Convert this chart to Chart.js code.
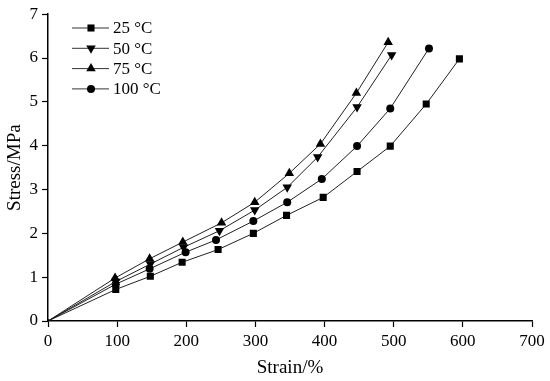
<!DOCTYPE html>
<html>
<head>
<meta charset="utf-8">
<script src="https://cdn.jsdelivr.net/npm/chart.js@4"></script>
<style>
    html, body { margin: 0; padding: 0; background: #fff; }
    #contenedor { width: 550px; height: 381px; }
</style>
</head>
<body>
<div id="contenedor"><canvas id="grafica"></canvas></div>
<script>
// Datos
const etiquetas = ['25 °C', '50 °C', '75 °C', '100 °C'];
const estilos = ['rect', 'triangle', 'triangle', 'circle'];
const rotaciones = [0, 180, 0, 0];
const radios = [5, 5.5, 5.5, 4];

const strain25 = [0, 98, 148, 194, 246, 297, 345, 398, 447, 495, 547, 595];
const stress25 = [0, 0.72, 1.02, 1.34, 1.63, 2.0, 2.41, 2.82, 3.41, 3.99, 4.95, 5.98];

const strain50 = [0, 98, 148, 196, 248, 299, 346, 390, 447, 497];
const stress50 = [0, 0.9, 1.3, 1.68, 2.06, 2.53, 3.05, 3.74, 4.88, 6.07];

const strain75 = [0, 97, 147, 195, 251, 299, 349, 394, 446, 492];
const stress75 = [0, 0.98, 1.42, 1.8, 2.24, 2.71, 3.37, 4.04, 5.2, 6.36];

const strain100 = [0, 98, 147, 199, 243, 297, 346, 396, 447, 495, 551];
const stress100 = [0, 0.84, 1.19, 1.57, 1.85, 2.28, 2.71, 3.24, 3.99, 4.85, 6.22];

const strains = [strain25, strain50, strain75, strain100];
const stresses = [stress25, stress50, stress75, stress100];

const fuente = 'Liberation Serif';

const datasets = etiquetas.map((etiqueta, i) => ({
    label: etiqueta,
    data: strains[i].map((x, j) => ({ x: x, y: stresses[i][j] })),
    borderColor: '#222',
    borderWidth: 1,
    backgroundColor: '#000',
    pointStyle: strains[i].map((x, j) => j === 0 ? 'circle' : estilos[i]),
    pointRotation: rotaciones[i],
    pointRadius: strains[i].map((x, j) => j === 0 ? 1.5 : radios[i]),
    pointBorderWidth: 0,
    tension: 0
}));

// Leyenda dibujada dentro del área del gráfico
const leyendaInterna = {
    id: 'leyendaInterna',
    afterDraw(chart) {
        const ctx = chart.ctx;
        ctx.save();
        chart.data.datasets.forEach((ds, i) => {
            const y = 28 + i * 20.3;
            ctx.strokeStyle = '#333';
            ctx.lineWidth = 1;
            ctx.beginPath();
            ctx.moveTo(72, y);
            ctx.lineTo(109, y);
            ctx.stroke();
            ctx.fillStyle = '#000';
            ctx.strokeStyle = '#000';
            Chart.helpers.drawPoint(ctx, {
                pointStyle: estilos[i],
                rotation: rotaciones[i],
                radius: radios[i],
                borderWidth: 0
            }, 91, y);
            ctx.fillStyle = '#000';
            ctx.font = '17px "' + fuente + '"';
            ctx.textBaseline = 'middle';
            ctx.textAlign = 'left';
            ctx.fillText(ds.label, 113, y + 1);
        });
        ctx.restore();
    }
};

const ctx = document.getElementById('grafica').getContext('2d');
const myChart = new Chart(ctx, {
    type: 'line',
    data: { datasets: datasets },
    plugins: [leyendaInterna],
    options: {
        responsive: true,
        maintainAspectRatio: false,
        animation: false,
        layout: { padding: { top: 14, right: 18, left: 0, bottom: 0 } },
        plugins: {
            legend: { display: false },
            tooltip: { enabled: false }
        },
        scales: {
            x: {
                type: 'linear',
                min: 0,
                max: 700,
                afterFit: (scale) => { scale.height = 60; },
                ticks: {
                    stepSize: 100,
                    color: '#000',
                    padding: 4,
                    maxRotation: 0,
                    font: { family: fuente, size: 17 }
                },
                grid: { drawOnChartArea: false, tickLength: 6, color: '#000', tickWidth: 1.2 },
                border: { color: '#000', width: 1.5 },
                title: {
                    display: true,
                    text: 'Strain/%',
                    color: '#000',
                    font: { family: fuente, size: 19 },
                    padding: { top: 8, bottom: 2 }
                }
            },
            y: {
                min: 0,
                max: 7,
                afterFit: (scale) => { scale.width = 48; },
                ticks: {
                    stepSize: 1,
                    color: '#000',
                    padding: 4,
                    font: { family: fuente, size: 17 }
                },
                grid: { drawOnChartArea: false, tickLength: 6, color: '#000', tickWidth: 1.2 },
                border: { color: '#000', width: 1.5 },
                title: {
                    display: true,
                    text: 'Stress/MPa',
                    color: '#000',
                    font: { family: fuente, size: 19 },
                    padding: { top: 4, bottom: 0 }
                }
            }
        }
    }
});
</script>
</body>
</html>
